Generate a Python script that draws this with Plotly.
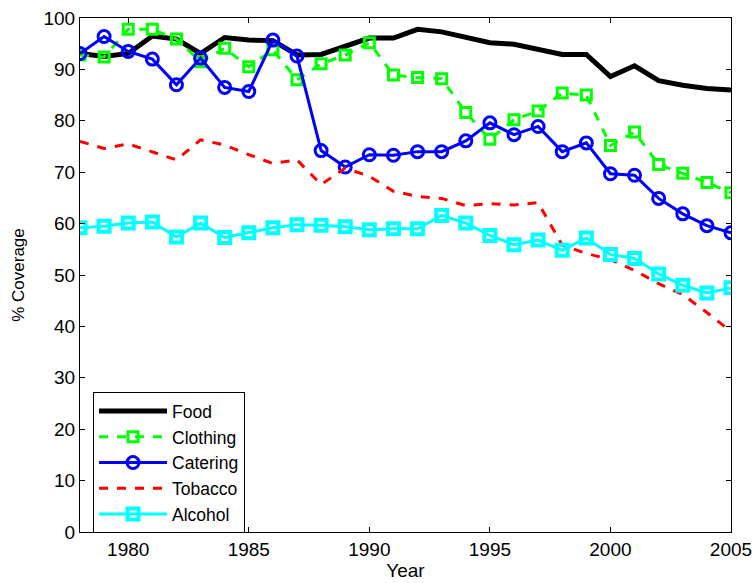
import plotly.graph_objects as go

years = list(range(1978, 2006))

food = [93.1, 92.5, 93.1, 96.5, 95.9, 93.1, 96.2, 95.7, 95.6, 92.8,
        92.9, 94.4, 96.1, 96.1, 97.8, 97.3, 96.2, 95.2, 94.9, 94.0,
        92.9, 92.9, 88.6, 90.7, 87.8, 86.9, 86.3, 86.0]
clothing = [92.8, 92.4, 97.8, 97.8, 95.9, 91.5, 94.1, 90.5, 93.8, 88.0,
            91.1, 92.8, 95.2, 88.9, 88.4, 88.2, 81.6, 76.4, 80.2, 81.9,
            85.4, 85.0, 75.2, 77.8, 71.5, 69.8, 68.0, 66.0]
catering = [93.1, 96.4, 93.5, 92.0, 87.0, 92.2, 86.5, 85.7, 95.7, 92.6,
            74.2, 71.0, 73.4, 73.3, 74.0, 74.0, 76.1, 79.6, 77.3, 78.9,
            74.0, 75.7, 69.7, 69.4, 64.9, 61.9, 59.6, 58.2]
tobacco = [76.0, 74.6, 75.5, 74.0, 72.4, 76.3, 75.3, 73.4, 71.7, 72.4,
           67.6, 70.8, 69.2, 66.3, 65.3, 64.9, 63.5, 63.9, 63.6, 64.1,
           55.8, 54.2, 53.0, 50.9, 48.3, 46.2, 42.7, 39.0]
alcohol = [59.2, 59.5, 60.1, 60.3, 57.4, 60.1, 57.3, 58.2, 59.2, 59.8,
           59.7, 59.4, 58.8, 59.0, 59.0, 61.6, 60.1, 57.7, 55.9, 56.8,
           54.8, 57.2, 54.0, 53.2, 50.2, 48.0, 46.5, 47.5]

x_ticks = [1980, 1985, 1990, 1995, 2000, 2005]
y_ticks = list(range(0, 101, 10))

fig = go.Figure()
fig.add_trace(go.Scatter(x=years, y=food, name='Food', mode='lines',
                         line=dict(color='black', width=5)))
fig.add_trace(go.Scatter(x=years, y=clothing, name='Clothing', mode='lines+markers',
                         line=dict(color='#00ff00', width=3, dash='dash'),
                         marker=dict(symbol='square-open', size=10, color='#00ff00',
                                     line=dict(width=3))))
fig.add_trace(go.Scatter(x=years, y=catering, name='Catering', mode='lines+markers',
                         line=dict(color='#0000ff', width=3),
                         marker=dict(symbol='circle-open', size=12, color='#0000ff',
                                     line=dict(width=3))))
fig.add_trace(go.Scatter(x=years, y=tobacco, name='Tobacco', mode='lines',
                         line=dict(color='#ff0000', width=3, dash='dash')))
fig.add_trace(go.Scatter(x=years, y=alcohol, name='Alcohol', mode='lines+markers',
                         line=dict(color='#00ffff', width=3),
                         marker=dict(symbol='square-open', size=11, color='#00ffff',
                                     line=dict(width=4))))

axis_style = dict(showgrid=False, zeroline=False, showline=True, linecolor='black',
                  linewidth=1, mirror='ticks', ticks='inside', ticklen=5,
                  tickcolor='black', tickfont=dict(size=19, color='black'),
                  automargin=False)

fig.update_xaxes(range=[1978, 2005], tickvals=x_ticks,
                 title=dict(text='Year', font=dict(size=19), standoff=2),
                 **axis_style)
fig.update_yaxes(range=[0, 100], tickvals=y_ticks,
                 title=dict(text='% Coverage', font=dict(size=17), standoff=14),
                 **axis_style)

fig.update_layout(
    width=755, height=583,
    margin=dict(l=80, r=24, t=18, b=51),
    plot_bgcolor='white', paper_bgcolor='white',
    font=dict(family='Liberation Sans, Arial, sans-serif', size=19, color='black'),
    legend=dict(x=0.02, y=0.272, xanchor='left', yanchor='top',
                bordercolor='black', borderwidth=1, bgcolor='white',
                font=dict(size=17.5), tracegroupgap=0, itemwidth=68),
)

# drop the default 8px body margin so the figure sits at the window origin
fig.write_html("out.html", config={'displayModeBar': False},
               post_script="document.body.style.margin='0';document.body.style.overflow='hidden';")
